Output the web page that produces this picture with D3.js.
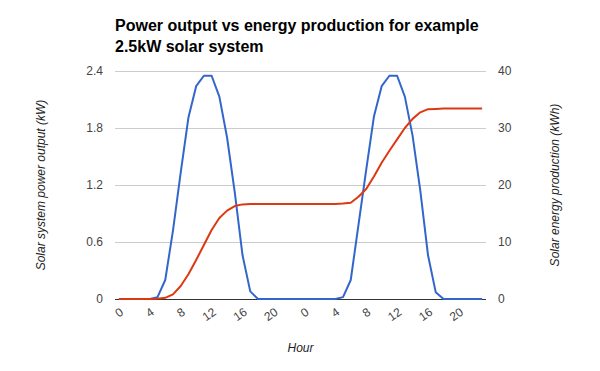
<!DOCTYPE html>
<html>
<head>
<meta charset="utf-8">
<script src="https://cdn.jsdelivr.net/npm/d3@7"></script>
<style>
  body { margin: 0; background: #fff; }
  svg { display: block; font-family: Arial, "Liberation Sans", sans-serif; }
</style>
</head>
<body>
<div id="chart"></div>
<script>
// hour of day, two days back to back
var hours = [0,1,2,3,4,5,6,7,8,9,10,11,12,13,14,15,16,17,18,19,20,21,22,23,
             0,1,2,3,4,5,6,7,8,9,10,11,12,13,14,15,16,17,18,19,20,21,22,23];

// power output (kW), left axis
var power = [0,0,0,0,0,0.02,0.2,0.72,1.33,1.91,2.24,2.35,2.35,2.13,1.7,1.12,0.46,0.08,0,0,0,0,0,0,
             0,0,0,0,0,0.02,0.2,0.78,1.36,1.92,2.24,2.35,2.35,2.13,1.72,1.14,0.46,0.07,0,0,0,0,0,0];

// energy production (kWh), right axis
var energy = [0,0,0,0,0,0.05,0.2,0.82,2.28,4.33,6.84,9.47,12.1,14.2,15.5,16.3,16.6,16.65,16.67,16.67,16.67,16.67,16.67,16.67,
              16.67,16.67,16.67,16.67,16.67,16.75,16.9,17.95,19.3,21.5,23.9,26.0,28.0,30.0,31.6,32.75,33.3,33.35,33.4,33.4,33.4,33.4,33.4,33.4];

var leftTicks = [0, 0.6, 1.2, 1.8, 2.4];
var rightTicks = [0, 10, 20, 30, 40];

var width = 600, height = 371;
var margin = {top: 71, right: 114, bottom: 72, left: 115};
var plotW = width - margin.left - margin.right;
var plotH = height - margin.top - margin.bottom;

var svg = d3.select("#chart").append("svg")
    .attr("width", width)
    .attr("height", height);

var idx = d3.range(hours.length);

var x = d3.scalePoint()
    .domain(idx)
    .range([margin.left, margin.left + plotW])
    .padding(0.5);

var yLeft = d3.scaleLinear()
    .domain([0, 2.4])
    .range([margin.top + plotH, margin.top]);

var yRight = d3.scaleLinear()
    .domain([0, 40])
    .range([margin.top + plotH, margin.top]);

// title
svg.append("text")
    .attr("x", margin.left)
    .attr("y", 31)
    .style("font-size", "16px")
    .attr("font-weight", "bold")
    .attr("fill", "#000")
    .selectAll("tspan")
    .data(["Power output vs energy production for example", "2.5kW solar system"])
    .join("tspan")
    .attr("x", margin.left)
    .attr("dy", (d, i) => i ? 21 : 0)
    .text(d => d);

// gridlines
svg.append("g")
    .selectAll("line")
    .data(leftTicks.slice(1))
    .join("line")
    .attr("x1", margin.left)
    .attr("x2", margin.left + plotW)
    .attr("y1", d => Math.round(yLeft(d)) + 0.5)
    .attr("y2", d => Math.round(yLeft(d)) + 0.5)
    .attr("stroke", "#cccccc");

// left axis labels
var leftAxis = svg.append("g")
    .attr("transform", `translate(${margin.left - 12},0)`)
    .call(d3.axisLeft(yLeft).tickValues(leftTicks).tickSize(0).tickPadding(0).tickFormat(d3.format("")));
leftAxis.select(".domain").remove();
leftAxis.selectAll("text")
    .style("font-size", "12px")
    .style("font-family", "Arial, 'Liberation Sans', sans-serif")
    .attr("fill", "#444");

// right axis labels
var rightAxis = svg.append("g")
    .attr("transform", `translate(${margin.left + plotW + 12},0)`)
    .call(d3.axisRight(yRight).tickValues(rightTicks).tickSize(0).tickPadding(0));
rightAxis.select(".domain").remove();
rightAxis.selectAll("text")
    .style("font-size", "12px")
    .style("font-family", "Arial, 'Liberation Sans', sans-serif")
    .attr("fill", "#444");

// x labels, every 4 hours, slanted
var xAxis = svg.append("g")
    .attr("transform", `translate(0,${margin.top + plotH})`)
    .call(d3.axisBottom(x).tickValues(idx.filter(i => i % 4 === 0)).tickSize(0).tickPadding(0)
        .tickFormat(i => hours[i]));
xAxis.select(".domain").remove();
xAxis.selectAll("text")
    .style("font-size", "12px")
    .style("font-family", "Arial, 'Liberation Sans', sans-serif")
    .attr("fill", "#444")
    .attr("text-anchor", "end")
    .attr("dy", "0.7em")
    .attr("transform", "translate(0,8) rotate(-35)");

// axis titles
svg.append("text")
    .attr("transform", `translate(45,${margin.top + plotH / 2}) rotate(-90)`)
    .attr("text-anchor", "middle")
    .style("font-size", "12px")
    .style("font-style", "italic")
    .attr("fill", "#222")
    .text("Solar system power output (kW)");

svg.append("text")
    .attr("transform", `translate(559,${margin.top + plotH / 2}) rotate(-90)`)
    .attr("text-anchor", "middle")
    .style("font-size", "12px")
    .style("font-style", "italic")
    .attr("fill", "#222")
    .text("Solar energy production (kWh)");

svg.append("text")
    .attr("x", margin.left + plotW / 2)
    .attr("y", 352)
    .attr("text-anchor", "middle")
    .style("font-size", "12px")
    .style("font-style", "italic")
    .attr("fill", "#222")
    .text("Hour");

// baseline
svg.append("line")
    .attr("x1", margin.left)
    .attr("x2", margin.left + plotW)
    .attr("y1", margin.top + plotH + 0.5)
    .attr("y2", margin.top + plotH + 0.5)
    .attr("stroke", "#333");

// series
var powerLine = d3.line()
    .x((d, i) => x(i))
    .y(d => yLeft(d));

var energyLine = d3.line()
    .x((d, i) => x(i))
    .y(d => yRight(d));

svg.append("path")
    .datum(power)
    .attr("d", powerLine)
    .attr("fill", "none")
    .attr("stroke", "#3366cc")
    .attr("stroke-width", 2)
    .attr("stroke-linejoin", "round");

svg.append("path")
    .datum(energy)
    .attr("d", energyLine)
    .attr("fill", "none")
    .attr("stroke", "#dc3912")
    .attr("stroke-width", 2)
    .attr("stroke-linejoin", "round");
</script>
</body>
</html>
